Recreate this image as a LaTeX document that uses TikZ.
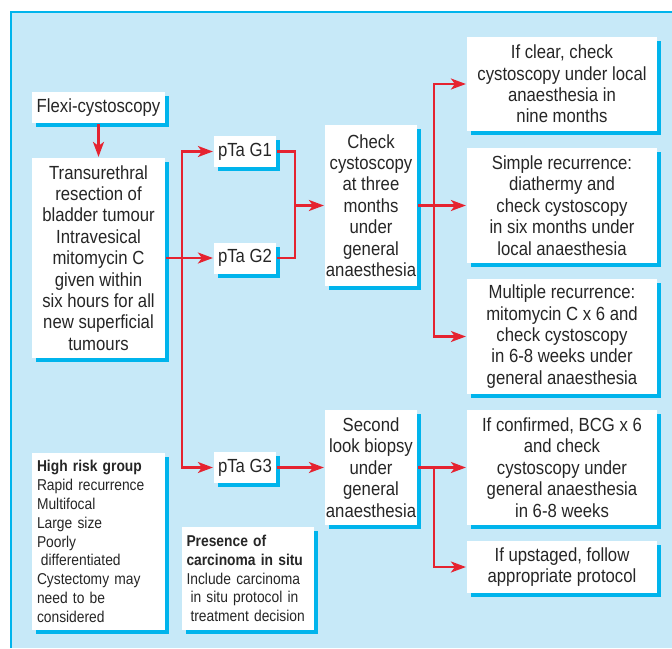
\documentclass[tikz,border=0pt]{standalone}
\usepackage{fontspec}
\setmainfont{Liberation Sans}[FakeStretch=0.88]
\usepackage{tikz}
\usetikzlibrary{arrows.meta, shadows}

\definecolor{panelblue}{HTML}{C7E9F8}
\definecolor{edgeblue}{HTML}{00B4EC}
\definecolor{flowred}{HTML}{E52330}
\definecolor{textgrey}{HTML}{262626}

\begin{document}
\begin{tikzpicture}[x=1pt, y=-1pt, line width=2.2pt,
    box/.style={fill=white, text=textgrey, inner sep=0pt, align=center,
        font=\fontsize{19}{21.4}\selectfont,
        drop shadow={shadow xshift=4pt, shadow yshift=-4pt, fill=edgeblue, opacity=1}},
    notebox/.style={box, align=left, inner xsep=5pt, inner ysep=0pt,
        font=\fontsize{15.7}{18.8}\selectfont},
    flow/.style={draw=flowred, -{Stealth[length=15pt, width=11pt, inset=4pt]}},
    joint/.style={draw=flowred}];
    \useasboundingbox (0,0) rectangle (672,648);
    \fill[panelblue] (11,12) rectangle (672,648);
    \draw[edgeblue, line width=1.5pt] (11,648) -- (11,12) -- (672,12);

    \node[box, minimum width=133pt, minimum height=31pt] (flexi) at (98.5,107.5) {Flexi-cystoscopy};
    \node[box, minimum width=133pt, minimum height=200pt] (turbt) at (98.5,258) {Transurethral\\resection of\\bladder tumour\\Intravesical\\mitomycin C\\given within\\six hours for all\\new superficial\\tumours};

    \node[box, minimum width=62pt, minimum height=31pt] (gone) at (245,151.5) {pTa G1};
    \node[box, minimum width=62pt, minimum height=31pt] (gtwo) at (245,258) {pTa G2};
    \node[box, minimum width=62pt, minimum height=31pt] (gthree) at (245,467.5) {pTa G3};

    \node[box, minimum width=92pt, minimum height=161pt] (check) at (371,205.5) {Check\\cystoscopy\\at three\\months\\under\\general\\anaesthesia};
    \node[box, minimum width=92pt, minimum height=115pt] (second) at (371,467.5) {Second\\look biopsy\\under\\general\\anaesthesia};

    \node[box, minimum width=190pt, minimum height=94pt] (clear) at (562,84) {If clear, check\\cystoscopy under local\\anaesthesia in\\nine months};
    \node[box, minimum width=190pt, minimum height=115pt] (simple) at (562,205.5) {Simple recurrence:\\diathermy and\\check cystoscopy\\in six months under\\local anaesthesia};
    \node[box, minimum width=190pt, minimum height=115pt] (multiple) at (562,336.5) {Multiple recurrence:\\mitomycin C x 6 and\\check cystoscopy\\in 6-8 weeks under\\general anaesthesia};
    \node[box, minimum width=190pt, minimum height=115pt] (confirmed) at (562,467.5) {If confirmed, BCG x 6\\and check\\cystoscopy under\\general anaesthesia\\in 6-8 weeks};
    \node[box, minimum width=190pt, minimum height=52pt] (upstaged) at (562,567) {If upstaged, follow\\appropriate protocol};

    \node[notebox, text width=123pt, minimum height=177pt] (highrisk) at (98.5,541.5) {\textbf{High risk group}\\Rapid recurrence\\Multifocal\\Large size\\Poorly\\\hspace*{4pt}differentiated\\Cystectomy may\\need to be\\considered};
    \node[notebox, text width=123pt, inner xsep=4.5pt, minimum height=103pt] (insitu) at (248,578.5) {\textbf{Presence of}\\\textbf{carcinoma in situ}\\Include carcinoma\\\hspace*{4pt}in situ protocol in\\\hspace*{4pt}treatment decision};

    \coordinate (splitg) at (182,258);
    \coordinate (mergeg) at (295,205.5);
    \coordinate (splitc) at (434,205.5);
    \coordinate (splits) at (434,467.5);

    \draw[flow] (flexi) -- (turbt);
    \draw[flow] (turbt.east) -- (gtwo.west);
    \draw[flow] (splitg) |- (gone.west);
    \draw[flow] (splitg) |- (gthree.west);

    \draw[joint] (gone.east) -| (mergeg);
    \draw[joint] (gtwo.east) -| (mergeg);
    \draw[flow] (mergeg) -- (check.west);

    \draw[flow] (check.east) -- (simple.west);
    \draw[flow] (splitc) |- (clear.west);
    \draw[flow] (splitc) |- (multiple.west);

    \draw[flow] (gthree) -- (second);
    \draw[flow] (second.east) -- (confirmed.west);
    \draw[flow] (splits) |- (upstaged.west);
\end{tikzpicture}
\end{document}
